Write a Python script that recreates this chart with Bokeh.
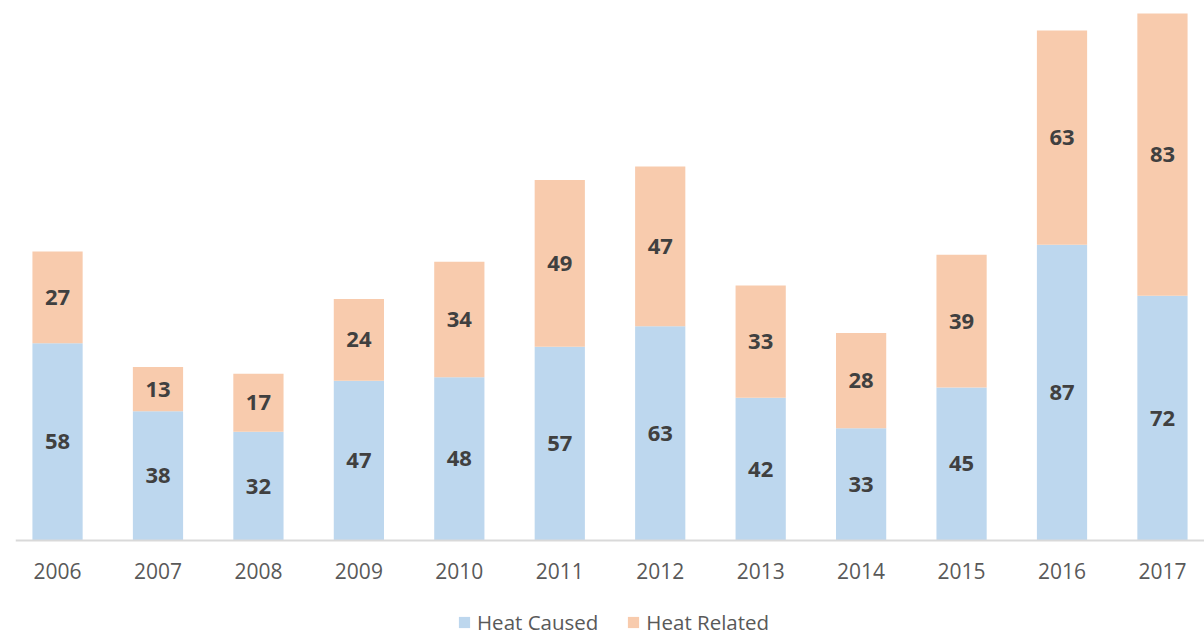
from bokeh.plotting import figure
from bokeh.models import ColumnDataSource, Legend, LegendItem, Range1d, FactorRange
from bokeh.core.properties import value
from bokeh.embed import file_html
from bokeh.resources import INLINE

years = ["2006", "2007", "2008", "2009", "2010", "2011", "2012", "2013", "2014", "2015", "2016", "2017"]
heat_caused = [58, 38, 32, 47, 48, 57, 63, 42, 33, 45, 87, 72]
heat_related = [27, 13, 17, 24, 34, 49, 47, 33, 28, 39, 63, 83]

BLUE = "#BDD7EE"
ORANGE = "#F8CBAD"
FONT = "Open Sans"

src = ColumnDataSource(dict(year=years, caused=heat_caused, related=heat_related))

xr = FactorRange(*years, range_padding=-0.0815, range_padding_units="absolute")
p = figure(x_range=xr, y_range=Range1d(-28.235, 158.8),
           frame_width=1189, frame_height=636, output_backend="svg", toolbar_location=None,
           min_border_left=15, min_border_right=0, min_border_top=0, min_border_bottom=0)
p.outline_line_color = None
p.xgrid.grid_line_color = None
p.ygrid.grid_line_color = None
p.yaxis.visible = False

r = p.vbar_stack(["caused", "related"], x="year", width=0.5, source=src,
                 color=[BLUE, ORANGE], line_color=None)

lab = ColumnDataSource(dict(
    x=years + years,
    y=[c / 2 for c in heat_caused] + [c + r_ / 2 for c, r_ in zip(heat_caused, heat_related)],
    t=[str(v) for v in heat_caused + heat_related],
))
p.text(x="x", y="y", text="t", source=lab, text_align="center", text_baseline="middle",
       text_font=value(FONT), text_font_style="bold", text_font_size="22px", text_color="#404040")

ax = p.xaxis[0]
ax.fixed_location = 0
ax.axis_line_color = "#d9d9d9"
ax.axis_line_width = 2
ax.major_tick_line_color = None
ax.minor_tick_line_color = None
ax.major_label_standoff = 17
ax.major_label_text_font = FONT
ax.major_label_text_font_size = "21px"
ax.major_label_text_color = "#595959"
p.x_range.group_padding = 0

legend = Legend(items=[LegendItem(label="Heat Caused", renderers=[r[0]]),
                       LegendItem(label="Heat Related", renderers=[r[1]])],
                orientation="horizontal", location=(442, 0),
                glyph_width=14, glyph_height=14, label_text_font=FONT,
                label_text_font_size="20.5px", label_text_color="#595959",
                border_line_color=None, background_fill_alpha=0,
                spacing=28, label_standoff=6, padding=0, margin=0)
p.add_layout(legend, "center")

open("out.html", "w").write(file_html(p, INLINE))
